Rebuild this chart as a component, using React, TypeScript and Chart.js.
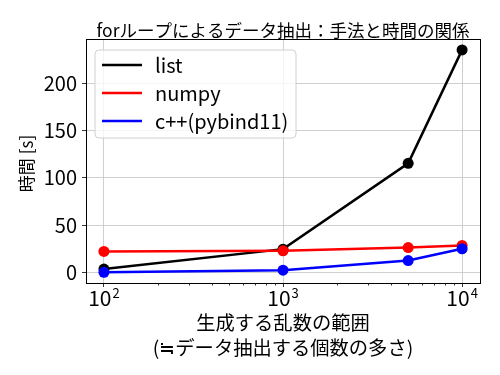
import React, { useEffect, useRef } from "react";
import { Chart, registerables } from "chart.js";

Chart.register(...registerables);

const sizes = [100, 1000, 5000, 10000];
const listTimes = [3.5, 24.6, 115.3, 235.2];
const numpyTimes = [22.2, 22.9, 26.2, 28.5];
const cppTimes = [0.1, 2.4, 12.5, 25.0];
const seriesNames = ["list", "numpy", "c++(pybind11)"];
const seriesColors = ["#000000", "#ff0000", "#0000ff"];
const xMajorTicks = [100, 1000, 10000];
const xMajorBase = ["10", "10", "10"];
const xMajorExp = ["2", "3", "4"];
const xMinorTicks = [200, 300, 400, 500, 600, 700, 800, 900, 2000, 3000, 4000, 5000, 6000, 7000, 8000, 9000];
const yTicks = [0, 50, 100, 150, 200];
const xLimits = [79.4, 12589];
const yLimits = [-11.2, 246.7];
const titleText = "forループによるデータ抽出：手法と時間の関係";
const xTitle = ["生成する乱数の範囲", "(≒データ抽出する個数の多さ)"];
const yTitle = "時間 [s]";

const FONT = '"Noto Sans CJK JP", "Noto Sans", sans-serif';

const framePlugin = {
  id: "frameAndExtras",
  afterDatasetsDraw(chart: any) {
    const { ctx, chartArea } = chart;
    // legend
    const left = chartArea.left + 9;
    const top = chartArea.top + 11;
    const w = 201;
    const h = 88;
    ctx.save();
    ctx.beginPath();
    const r = 4;
    ctx.moveTo(left + r, top);
    ctx.lineTo(left + w - r, top);
    ctx.quadraticCurveTo(left + w, top, left + w, top + r);
    ctx.lineTo(left + w, top + h - r);
    ctx.quadraticCurveTo(left + w, top + h, left + w - r, top + h);
    ctx.lineTo(left + r, top + h);
    ctx.quadraticCurveTo(left, top + h, left, top + h - r);
    ctx.lineTo(left, top + r);
    ctx.quadraticCurveTo(left, top, left + r, top);
    ctx.closePath();
    ctx.fillStyle = "rgba(255,255,255,0.8)";
    ctx.fill();
    ctx.strokeStyle = "#d0d0d0";
    ctx.lineWidth = 1;
    ctx.stroke();
    chart.data.datasets.forEach((ds: any, i: number) => {
      const y = top + 15 + i * 28;
      ctx.beginPath();
      ctx.moveTo(left + 7, y);
      ctx.lineTo(left + 47, y);
      ctx.strokeStyle = ds.borderColor;
      ctx.lineWidth = 2.5;
      ctx.stroke();
      ctx.fillStyle = "#000";
      ctx.font = `20px ${FONT}`;
      ctx.textBaseline = "middle";
      ctx.textAlign = "left";
      ctx.fillText(ds.label, left + 60, y);
    });
    ctx.restore();
  },
  afterDraw(chart: any) {
    const { ctx, chartArea } = chart;
    const xs = chart.scales.x;
    ctx.save();
    // frame
    ctx.strokeStyle = "#000";
    ctx.lineWidth = 1;
    ctx.strokeRect(chartArea.left + 0.5, chartArea.top + 0.5, chartArea.right - chartArea.left, chartArea.bottom - chartArea.top);
    // minor ticks
    ctx.beginPath();
    xMinorTicks.forEach((v) => {
      const x = Math.round(xs.getPixelForValue(v)) + 0.5;
      ctx.moveTo(x, chartArea.bottom);
      ctx.lineTo(x, chartArea.bottom + 2.5);
    });
    ctx.lineWidth = 0.8;
    ctx.stroke();
    // x tick labels 10^n
    ctx.fillStyle = "#000";
    ctx.textBaseline = "alphabetic";
    xMajorTicks.forEach((v, i) => {
      const x = xs.getPixelForValue(v);
      ctx.font = `21px ${FONT}`;
      const bw = ctx.measureText(xMajorBase[i]).width;
      ctx.font = `13px ${FONT}`;
      const ew = ctx.measureText(xMajorExp[i]).width;
      const start = x - (bw + ew + 1) / 2;
      ctx.font = `21px ${FONT}`;
      ctx.textAlign = "left";
      ctx.fillText(xMajorBase[i], start, chartArea.bottom + 23);
      ctx.font = `13px ${FONT}`;
      ctx.fillText(xMajorExp[i], start + bw + 1, chartArea.bottom + 15);
    });
    // title
    ctx.font = `17.5px ${FONT}`;
    ctx.textAlign = "center";
    ctx.textBaseline = "middle";
    ctx.fillText(titleText, (chartArea.left + chartArea.right) / 2, 30);
    // y axis title
    ctx.save();
    ctx.translate(27, (chartArea.top + chartArea.bottom) / 2 + 2.5);
    ctx.rotate(-Math.PI / 2);
    ctx.font = `17px ${FONT}`;
    ctx.textAlign = "center";
    ctx.textBaseline = "middle";
    ctx.fillText(yTitle, 0, 0);
    ctx.restore();
    ctx.restore();
  },
};

export default function App() {
  const ref = useRef<HTMLCanvasElement>(null);
  useEffect(() => {
    if (!ref.current) return;
    const mk = (vals: number[]) => sizes.map((s, i) => ({ x: s, y: vals[i] }));
    const all = [listTimes, numpyTimes, cppTimes];
    const chart = new Chart(ref.current, {
      type: "line",
      data: {
        datasets: all.map((vals, i) => ({
          label: seriesNames[i],
          data: mk(vals),
          borderColor: seriesColors[i],
          backgroundColor: seriesColors[i],
          pointBackgroundColor: seriesColors[i],
          pointBorderColor: seriesColors[i],
          pointBorderWidth: 0,
          pointRadius: 5.5,
          borderWidth: 2.5,
          fill: false,
          tension: 0,
          order: 2 - i,
        })),
      },
      options: {
        animation: false,
        responsive: false,
        events: [],
        layout: { padding: { top: 39, right: 20, left: 0, bottom: 0 } },
        plugins: {
          legend: { display: false },
          tooltip: { enabled: false },
          title: { display: false },
        },
        scales: {
          x: {
            type: "logarithmic",
            min: xLimits[0],
            max: xLimits[1],
            afterBuildTicks: (s: any) => {
              s.ticks = xMajorTicks.map((v) => ({ value: v }));
            },
            afterFit: (s: any) => {
              s.height = 92;
            },
            ticks: { display: false },
            grid: {
              color: "#c4c4c4",
              lineWidth: 0.8,
              tickColor: "#000",
              tickLength: 4,
              drawTicks: true,
            },
            border: { display: true, color: "#000" },
            title: {
              display: true,
              text: xTitle,
              color: "#000",
              font: { family: FONT, size: 19.3, lineHeight: 1.3 },
              padding: { top: 0, bottom: 14.5 },
            },
          },
          y: {
            type: "linear",
            min: yLimits[0],
            max: yLimits[1],
            afterBuildTicks: (s: any) => {
              s.ticks = yTicks.map((v) => ({ value: v }));
            },
            afterFit: (s: any) => {
              s.width = 86;
            },
            ticks: {
              color: "#000",
              font: { family: FONT, size: 20 },
              padding: 5,
            },
            grid: {
              color: "#c4c4c4",
              lineWidth: 0.8,
              tickColor: "#000",
              tickLength: 4,
              drawTicks: true,
            },
            border: { display: true, color: "#000" },
            title: { display: false },
          },
        },
      },
      plugins: [framePlugin],
    });
    return () => chart.destroy();
  }, []);
  return (
    <div style={{ position: "fixed", left: 0, top: 0, width: 500, height: 375, background: "#fff" }}>
      <canvas ref={ref} width={500} height={375} />
    </div>
  );
}
